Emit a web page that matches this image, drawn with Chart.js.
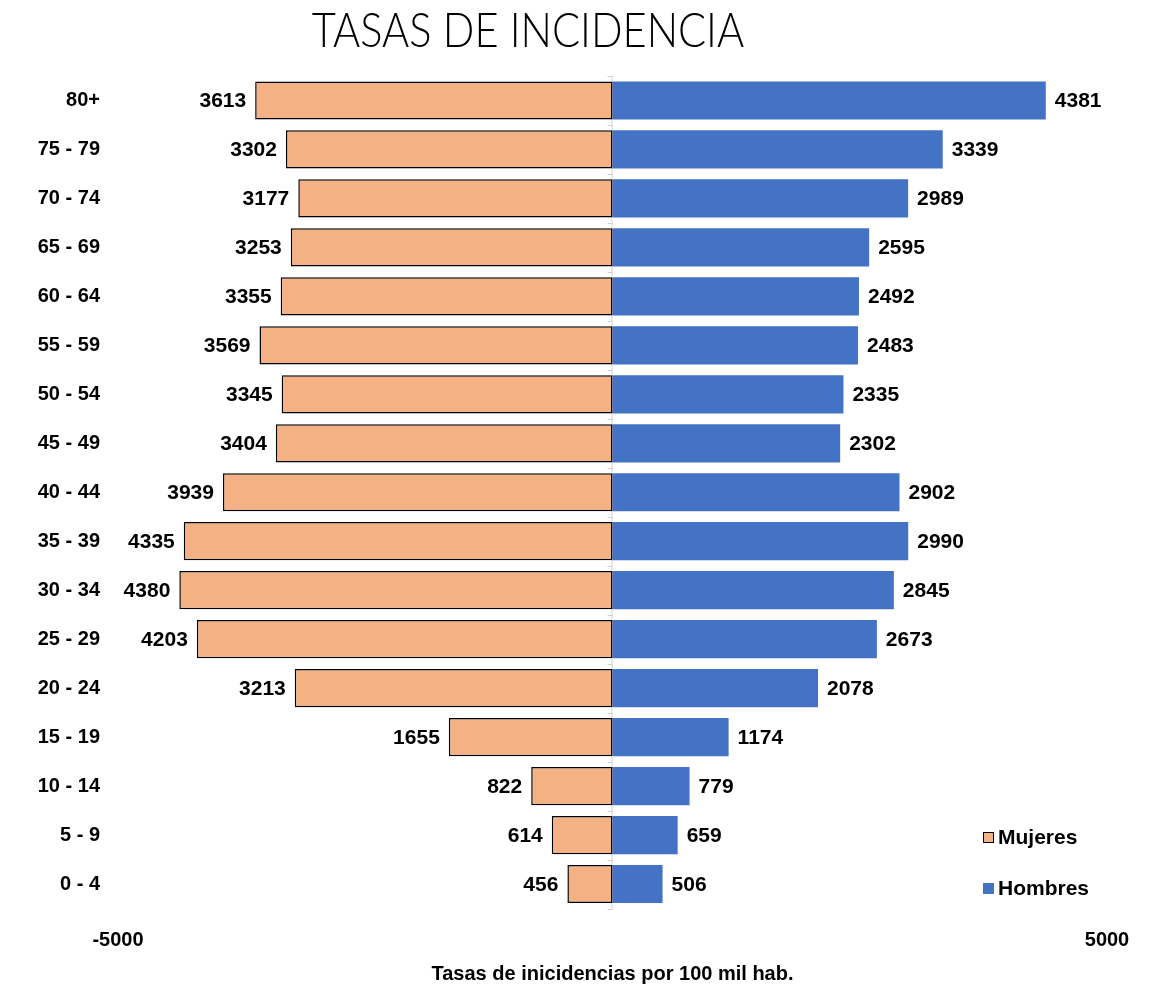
<!DOCTYPE html>
<html>
<head>
<meta charset="utf-8">
<script src="https://cdn.jsdelivr.net/npm/chart.js@4.4.0/dist/chart.umd.min.js"></script>
<style>
  body { margin: 0; background: #fff; }
  #wrap { position: relative; width: 1150px; height: 986px; }
  #title {
    position: absolute; left: 0; top: 0; width: 1056px; text-align: center;
    font-family: "Lato", sans-serif; font-weight: 300;
    font-size: 48px; color: #000; transform: scaleX(0.866); transform-origin: 528px 0;
  }
  .legend { position: absolute; left: 983px; font-family: "Liberation Sans", sans-serif;
    font-weight: bold; font-size: 21px; color: #000; }
  .legend span.box { display: inline-block; width: 11px; height: 11px; margin-right: 4px; vertical-align: 1px; box-sizing: border-box; }
</style>
</head>
<body>
<div id="wrap">
  <div id="title">TASAS DE INCIDENCIA</div>
  <canvas id="chart" width="1150" height="986"></canvas>
  <div class="legend" style="top:825px"><span class="box" style="background:#F4B183;border:1.5px solid #000"></span>Mujeres</div>
  <div class="legend" style="top:876px"><span class="box" style="background:#4472C4"></span>Hombres</div>
</div>
<script>
const ageGroups = ["80+", "75 - 79", "70 - 74", "65 - 69", "60 - 64", "55 - 59", "50 - 54", "45 - 49",
  "40 - 44", "35 - 39", "30 - 34", "25 - 29", "20 - 24", "15 - 19", "10 - 14", "5 - 9", "0 - 4"];
const mujeres = [3613, 3302, 3177, 3253, 3355, 3569, 3345, 3404, 3939, 4335, 4380, 4203, 3213, 1655, 822, 614, 456];
const hombres = [4381, 3339, 2989, 2595, 2492, 2483, 2335, 2302, 2902, 2990, 2845, 2673, 2078, 1174, 779, 659, 506];
const xTicks = [-5000, 5000];

const boldFont = { family: "'Liberation Sans', sans-serif", size: 20, weight: "bold" };

// values next to the bars
const barLabels = {
  id: "barLabels",
  afterDatasetsDraw(chart) {
    const ctx = chart.ctx;
    ctx.save();
    ctx.font = "bold 21px 'Liberation Sans', sans-serif";
    ctx.fillStyle = "#000";
    ctx.textBaseline = "middle";
    chart.data.datasets.forEach((ds, i) => {
      chart.getDatasetMeta(i).data.forEach((bar, j) => {
        const v = Math.abs(ds.data[j]);
        if (ds.data[j] < 0) {
          ctx.textAlign = "right";
          ctx.fillText(v, bar.x - 9, bar.y + 1);
        } else {
          ctx.textAlign = "left";
          ctx.fillText(v, bar.x + 9, bar.y + 1);
        }
      });
    });
    ctx.restore();
  }
};

// grey axis line at zero with small ticks between categories
const zeroAxis = {
  id: "zeroAxis",
  beforeDatasetsDraw(chart) {
    const ctx = chart.ctx;
    const x0 = chart.scales.x.getPixelForValue(0);
    const y = chart.scales.y;
    const step = (y.bottom - y.top) / ageGroups.length;
    ctx.save();
    ctx.strokeStyle = "#d0d0d0";
    ctx.lineWidth = 1;
    ctx.beginPath();
    ctx.moveTo(x0 - 0.5, y.top);
    ctx.lineTo(x0 - 0.5, y.bottom);
    for (let k = 0; k <= ageGroups.length; k++) {
      const yy = Math.round(y.top + k * step) + 0.5;
      ctx.moveTo(x0 - 5, yy);
      ctx.lineTo(x0, yy);
    }
    ctx.stroke();
    ctx.restore();
  }
};

new Chart(document.getElementById("chart"), {
  type: "bar",
  data: {
    labels: ageGroups,
    datasets: [
      {
        label: "Mujeres",
        data: mujeres.map(v => -v),
        backgroundColor: "#F4B183",
        borderColor: "#000",
        borderWidth: 1.5,
        borderSkipped: false,
        barPercentage: 0.78,
        categoryPercentage: 1
      },
      {
        label: "Hombres",
        data: hombres,
        backgroundColor: "#4472C4",
        borderWidth: 0,
        barPercentage: 0.78,
        categoryPercentage: 1
      }
    ]
  },
  options: {
    indexAxis: "y",
    responsive: false,
    animation: false,
    layout: { padding: { top: 76, right: 43, left: 0, bottom: 0 } },
    plugins: {
      legend: { display: false },
      tooltip: { enabled: false }
    },
    scales: {
      x: {
        stacked: true,
        min: xTicks[0],
        max: xTicks[1],
        grid: { display: false, drawTicks: false },
        border: { display: false },
        afterBuildTicks(s) { s.ticks = xTicks.map(v => ({ value: v })); },
        ticks: {
          padding: 20,
          color: "#000",
          font: boldFont,
          callback: v => String(v)
        },
        title: {
          display: true,
          text: "Tasas de inicidencias por 100 mil hab.",
          color: "#000",
          padding: { top: 3, bottom: 0 },
          font: boldFont
        },
        afterFit(s) { s.height = 77.5; }
      },
      y: {
        stacked: true,
        grid: { display: false, drawTicks: false },
        border: { display: false },
        ticks: {
          padding: 18,
          color: "#000",
          font: boldFont
        },
        afterFit(s) { s.width = 118; }
      }
    }
  },
  plugins: [zeroAxis, barLabels]
});
</script>
</body>
</html>
